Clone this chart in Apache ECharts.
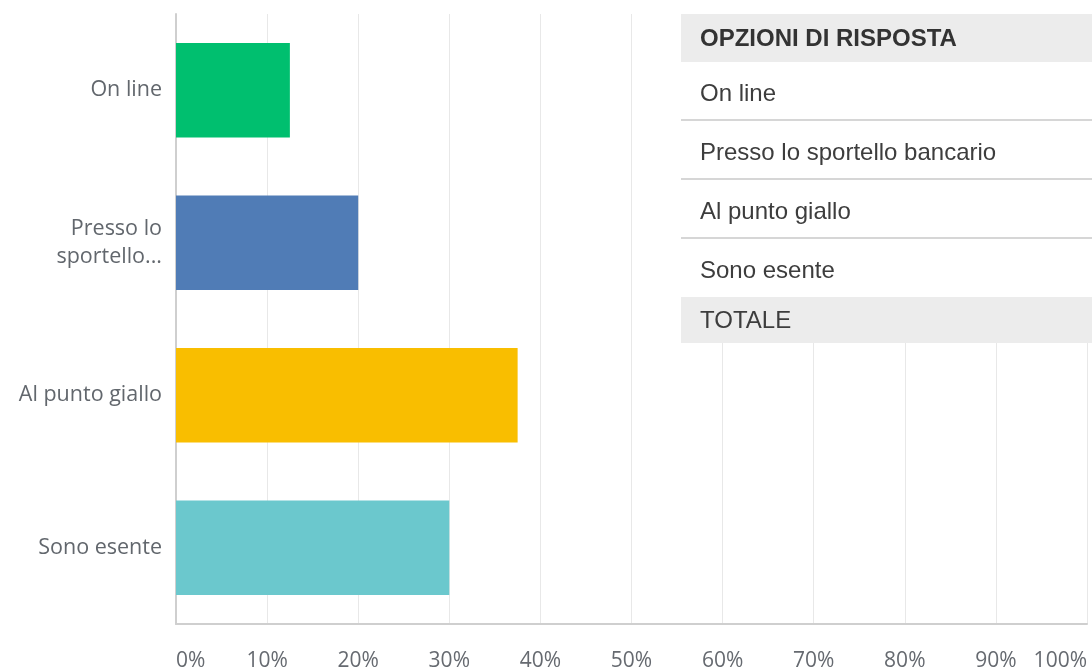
<!DOCTYPE html>
<html>
<head>
<meta charset="utf-8">
<script src="https://cdn.jsdelivr.net/npm/echarts@6/dist/echarts.min.js"></script>
<style>
  html, body { margin: 0; padding: 0; background: #fff; }
  #chart { width: 1092px; height: 669px; }
</style>
</head>
<body>
<div id="chart"></div>
<script>
// dati
var categorie = ['On line', 'Presso lo sportello bancario', 'Al punto giallo', 'Sono esente'];
var etichette = ['On line', 'Presso lo\nsportello...', 'Al punto giallo', 'Sono esente'];
var valori = [12.5, 20, 37.5, 30];
var colori = ['#00bf6f', '#507cb6', '#f9be00', '#6bc8cd'];
var intestazione = 'OPZIONI DI RISPOSTA';
var totale = 'TOTALE';

var chart = echarts.init(document.getElementById('chart'));

// tabella sopra il grafico (in alto a destra)
var tabella = [];
var x0 = 681, w = 420;
var fontRiga = '24px "Liberation Sans", Arial';
tabella.push({ type: 'rect', shape: { x: x0, y: 14, width: w, height: 48 }, style: { fill: '#ececec' }, z: 100 });
tabella.push({ type: 'rect', shape: { x: x0, y: 62, width: w, height: 235 }, style: { fill: '#fff' }, z: 100 });
tabella.push({ type: 'rect', shape: { x: x0, y: 297, width: w, height: 46 }, style: { fill: '#ececec' }, z: 100 });
tabella.push({
    type: 'text', x: 700, y: 39, z: 101,
    style: { text: intestazione, fill: '#333', font: 'bold 24px "Liberation Sans", Arial', verticalAlign: 'middle' }
});
var righeY = [94, 153, 212, 271];
for (var i = 0; i < categorie.length; i++) {
    tabella.push({
        type: 'text', x: 700, y: righeY[i], z: 101,
        style: { text: categorie[i], fill: '#3d3d3d', font: fontRiga, verticalAlign: 'middle' }
    });
    if (i < categorie.length - 1) {
        tabella.push({ type: 'rect', shape: { x: x0, y: righeY[i] + 25, width: w, height: 2 }, style: { fill: '#d6d6d6' }, z: 101 });
    }
}
tabella.push({
    type: 'text', x: 700, y: 321, z: 101,
    style: { text: totale, fill: '#3d3d3d', font: fontRiga, verticalAlign: 'middle' }
});

var option = {
    animation: false,
    grid: { left: 176, right: 5, top: 14, bottom: 45, containLabel: false, outerBoundsMode: 'none' },
    xAxis: {
        type: 'value',
        min: 0,
        max: 100,
        interval: 10,
        axisLine: { show: true, lineStyle: { color: '#cfcfcf', width: 2 } },
        axisTick: { show: false },
        splitLine: { show: true, lineStyle: { color: '#e8e8e8', width: 1 } },
        axisLabel: {
            formatter: '{value}%',
            color: '#666a70',
            fontSize: 21,
            fontFamily: 'Open Sans',
            margin: 27,
            alignMinLabel: 'left',
            alignMaxLabel: 'right'
        }
    },
    yAxis: {
        type: 'category',
        inverse: true,
        data: etichette,
        axisLine: { show: true, lineStyle: { color: '#cfcfcf', width: 2 } },
        axisTick: { show: false },
        axisLabel: {
            color: '#62676d',
            fontSize: 21.5,
            fontFamily: 'Open Sans',
            margin: 14,
            lineHeight: 28
        }
    },
    series: [{
        type: 'bar',
        barCategoryGap: '38%',
        data: valori.map(function (v, i) {
            return { value: v, itemStyle: { color: colori[i] } };
        })
    }],
    graphic: tabella
};

chart.setOption(option);
</script>
</body>
</html>
